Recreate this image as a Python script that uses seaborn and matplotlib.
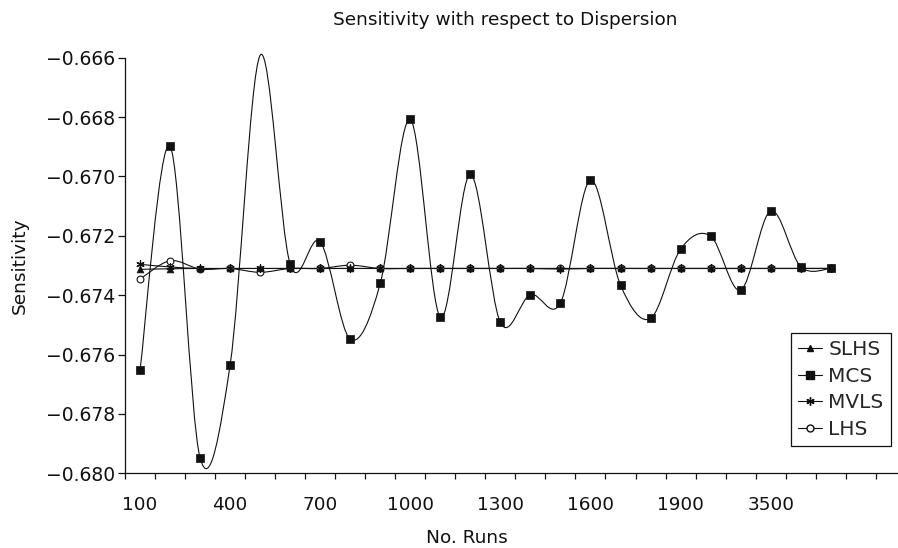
import numpy as np
import matplotlib
matplotlib.use("Agg")
import matplotlib.pyplot as plt
import seaborn as sns
from matplotlib.path import Path
from matplotlib.patches import PathPatch
from matplotlib.lines import Line2D
from matplotlib.ticker import MultipleLocator, FuncFormatter

# number of runs (only every third one is labelled on the axis)
runs = ["100", "200", "300", "400", "500", "600", "700", "800", "900", "1000",
        "1100", "1200", "1300", "1400", "1500", "1600", "1700", "1800", "1900",
        "2000", "2500", "3500", "4000", "4500"]

slhs = [-0.67313, -0.67311, -0.67310, -0.67310, -0.67310, -0.67310, -0.67310,
        -0.67310, -0.67310, -0.67310, -0.67310, -0.67310, -0.67310, -0.67310,
        -0.67310, -0.67310, -0.67310, -0.67310, -0.67310, -0.67310, -0.67310,
        -0.67310, -0.67310, -0.67310]
mcs = [-0.67653, -0.66898, -0.67948, -0.67635, -0.66592, -0.67296, -0.67220,
       -0.67548, -0.67360, -0.66808, -0.67474, -0.66993, -0.67492, -0.67398,
       -0.67426, -0.67012, -0.67366, -0.67478, -0.67245, -0.67201, -0.67383,
       -0.67116, -0.67304, -0.67310]
mvls = [-0.67296, -0.67305, -0.67310, -0.67310, -0.67310, -0.67310, -0.67310,
        -0.67310, -0.67310, -0.67310, -0.67310, -0.67310, -0.67310, -0.67310,
        -0.67312, -0.67310, -0.67310, -0.67310, -0.67310, -0.67310, -0.67310,
        -0.67310, -0.67310, -0.67310]
lhs = [-0.67346, -0.67284, -0.67312, -0.67310, -0.67323, -0.67310, -0.67310,
       -0.67299, -0.67310, -0.67310, -0.67310, -0.67310, -0.67310, -0.67310,
       -0.67310, -0.67310, -0.67310, -0.67310, -0.67310, -0.67310, -0.67310,
       -0.67310, -0.67310, -0.67310]

series = {"SLHS": slhs, "MCS": mcs, "MVLS": mvls, "LHS": lhs}
labelled_runs = ["100", "400", "700", "1000", "1300", "1600", "1900", "3500"]
y_min, y_max = -0.680, -0.666

ink = "#111111"
marker_style = {
    "SLHS": dict(marker="^", s=24, color=ink, edgecolor=ink, linewidth=0.5),
    "MCS": dict(marker="s", s=30, color=ink, edgecolor=ink, linewidth=0.5),
    "MVLS": dict(marker=(6, 2, 0), s=28, color=ink, linewidth=0.9),
    "LHS": dict(marker="o", s=24, color="white", edgecolor=ink, linewidth=0.8),
}
legend_style = {
    "SLHS": dict(marker="^", markersize=5, markerfacecolor=ink),
    "MCS": dict(marker="s", markersize=5.5, markerfacecolor=ink),
    "MVLS": dict(marker=(6, 2, 0), markersize=6),
    "LHS": dict(marker="o", markersize=5, markerfacecolor="white"),
}


def smooth_path(xs, ys):
    # Excel-like smoothed line: cubic Bezier through every point
    pts = np.column_stack([xs, ys])
    padded = np.vstack([pts[0], pts, pts[-1]])
    verts = [pts[0]]
    codes = [Path.MOVETO]
    for i in range(len(pts) - 1):
        p0, p1, p2, p3 = padded[i], padded[i + 1], padded[i + 2], padded[i + 3]
        verts += [p1 + (p2 - p0) / 6, p2 - (p3 - p1) / 6, p2]
        codes += [Path.CURVE4] * 3
    return Path(verts, codes)


sns.set_theme(style="ticks")
plt.rcParams["font.family"] = ["DejaVu Sans"]

fig = plt.figure(figsize=(8.98, 5.48), dpi=100)
ax = fig.add_axes([125 / 898, 1 - 473.3 / 548, 1 - 125 / 898, (473.3 - 57.7) / 548])

pos = np.arange(len(runs))
for name in ["LHS", "MVLS", "SLHS", "MCS"]:
    vals = np.array(series[name])
    ax.add_patch(PathPatch(smooth_path(pos, vals), fill=False, edgecolor=ink,
                           linewidth=0.8, clip_on=False, zorder=2))
for name in ["LHS", "MVLS", "SLHS", "MCS"]:
    vals = np.array(series[name])
    inside = (vals >= y_min) & (vals <= y_max)   # points off the scale get no marker
    sns.scatterplot(x=pos[inside], y=vals[inside], ax=ax, zorder=3, legend=False,
                    **marker_style[name])

ax.set_xlim(-0.5, 25.24)
ax.set_ylim(y_min, y_max)

# labels at every third run, tick marks between the categories
ax.set_xticks([runs.index(r) for r in labelled_runs])
ax.set_xticklabels(labelled_runs)
ax.set_xticks(np.arange(-0.5, 25.5, 1), minor=True)
ax.tick_params(axis="x", which="major", length=0, pad=16, labelsize=13.3, colors=ink)
ax.tick_params(axis="x", which="minor", length=4.5, width=0.9, direction="out", color=ink)

ax.yaxis.set_major_locator(MultipleLocator(0.002))
ax.yaxis.set_major_formatter(FuncFormatter(lambda v, p: f"{v:.3f}".replace("-", "\u2212")))
ax.tick_params(axis="y", length=4.8, width=0.9, pad=2, labelsize=13.5, colors=ink)

sns.despine(ax=ax)
for side in ["left", "bottom"]:
    ax.spines[side].set_color(ink)
    ax.spines[side].set_linewidth(0.9)

ax.set_xlabel("No. Runs", fontsize=13.3, color=ink)
ax.xaxis.set_label_coords((467 - 125) / 773, -0.135)
ax.set_ylabel("Sensitivity", fontsize=13.3, color=ink)
ax.yaxis.set_label_coords(-0.124, 0.5)

fig.text(505 / 898, 1 - 20 / 548, "Sensitivity with respect to Dispersion",
         ha="center", va="center", fontsize=13.3, color=ink)

handles = [Line2D([], [], color=ink, linewidth=0.8, markeredgecolor=ink, label=name,
                  **legend_style[name]) for name in series]
leg = ax.legend(handles=handles, loc="upper left", bbox_to_anchor=(791 / 898, 1 - 333 / 548),
                bbox_transform=fig.transFigure, fontsize=14.5, frameon=True, fancybox=False,
                handlelength=1.2, handletextpad=0.3, borderpad=0.35, labelspacing=0.38,
                borderaxespad=0)
leg.get_frame().set_edgecolor(ink)
leg.get_frame().set_linewidth(0.9)
leg.get_frame().set_facecolor("white")
leg.get_frame().set_alpha(1)

fig.savefig("out.png", dpi=100, facecolor="white")
